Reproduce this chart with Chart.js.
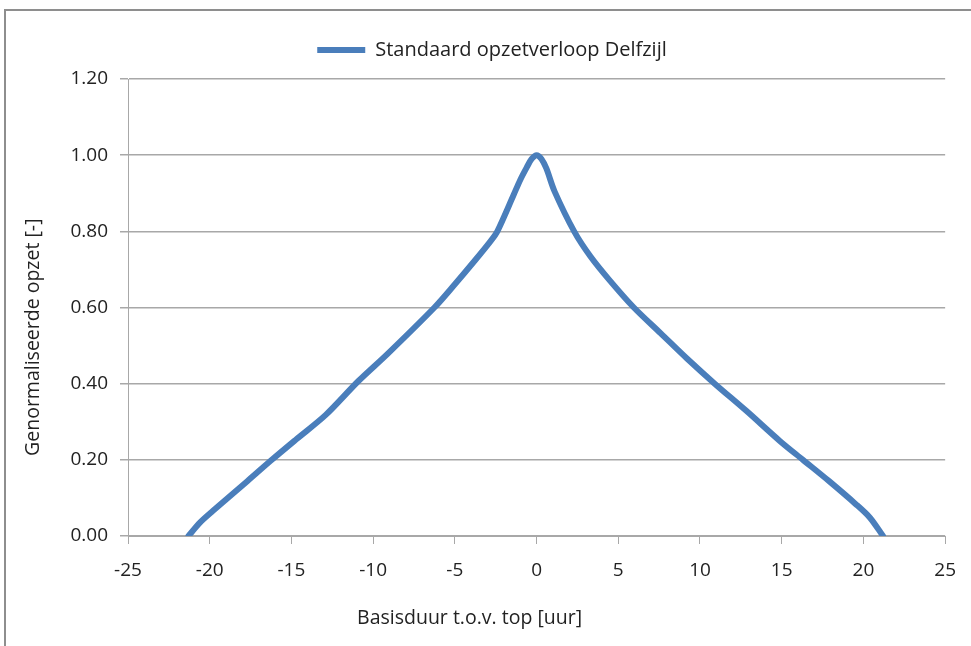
<!DOCTYPE html>
<html>
<head>
<meta charset="utf-8">
<title>Standaard opzetverloop Delfzijl</title>
<script src="https://cdn.jsdelivr.net/npm/chart.js@4.4.0/dist/chart.umd.min.js"></script>
<style>
    body { margin: 0; background: #fff; overflow: hidden; }
    #frame {
        position: absolute; left: 4px; top: 9px; width: 1000px; height: 700px;
        border-left: 2px solid #8e8e8e; border-top: 2px solid #8e8e8e;
    }
    #wrap { position: absolute; left: 0; top: 0; width: 971px; height: 646px; }
</style>
</head>
<body>
<div id="frame"></div>
<div id="wrap"><canvas id="chart" width="971" height="646"></canvas></div>
<script>
// <!-- DATA -->
const seriesName = 'Standaard opzetverloop Delfzijl';
const xTitle = 'Basisduur t.o.v. top [uur]';
const yTitle = 'Genormaliseerde opzet [-]';

// hours relative to the peak
const hours = [-21.3, -20.6, -19.8, -17.7, -16.2, -14.7, -12.9, -10.9, -9.1, -6.25, -5.0, -3.8, -2.8, -2.4, -1.4, -1.0, -0.6, -0.3, 0,
               0.3, 0.6, 1.1, 2.3, 3.3, 4.5, 5.95, 7.6, 9.2, 10.9, 12.85, 14.9, 16.3, 17.9, 19.55, 20.4, 21.2];
// normalised surge
const surge = [0, 0.035, 0.066, 0.144, 0.20, 0.254, 0.318, 0.407, 0.479, 0.60, 0.661, 0.722, 0.775, 0.80, 0.896, 0.935, 0.968, 0.99, 1.0,
               0.99, 0.965, 0.905, 0.80, 0.734, 0.67, 0.60, 0.532, 0.466, 0.40, 0.328, 0.249, 0.20, 0.144, 0.083, 0.048, 0];

const xMin = -25, xMax = 25, xStep = 5;
const yMin = 0, yMax = 1.2, yStep = 0.2;

const lineColor = '#4a7ebb';
const gridColor = '#a8a8a8';
const textColor = '#222';
const fontFamily = '"Open Sans", sans-serif';

// axis titles are drawn by hand, the original has them off-centre
const axisTitles = {
    id: 'axisTitles',
    afterDraw(chart) {
        const ctx = chart.ctx;
        const a = chart.chartArea;
        ctx.save();
        ctx.fillStyle = textColor;
        ctx.font = '19.5px ' + fontFamily;
        ctx.textAlign = 'center';
        ctx.textBaseline = 'middle';
        ctx.fillText(xTitle, a.left + (a.right - a.left) * 0.418, chart.height - 28);
        ctx.translate(33, a.top + (a.bottom - a.top) * 0.565);
        ctx.rotate(-Math.PI / 2);
        ctx.fillText(yTitle, 0, 0);
        ctx.restore();
    }
};

const points = hours.map((h, i) => ({ x: h, y: surge[i] }));

new Chart(document.getElementById('chart').getContext('2d'), {
    type: 'scatter',
    data: {
        datasets: [{
            label: seriesName,
            data: points,
            showLine: true,
            borderColor: lineColor,
            backgroundColor: lineColor,
            borderWidth: 6,
            borderJoinStyle: 'round',
            borderCapStyle: 'round',
            pointRadius: 0,
            tension: 0.3
        }]
    },
    options: {
        responsive: false,
        animation: false,
        layout: { padding: { top: 23, right: 25, left: 38, bottom: 0 } },
        plugins: {
            legend: {
                position: 'top',
                labels: {
                    boxWidth: 48,
                    boxHeight: 6,
                    color: textColor,
                    padding: 17,
                    font: { family: fontFamily, size: 20 },
                    generateLabels(chart) {
                        const items = Chart.defaults.plugins.legend.labels.generateLabels(chart);
                        items.forEach(it => { it.fillStyle = lineColor; it.strokeStyle = lineColor; it.lineWidth = 0; });
                        return items;
                    }
                }
            },
            // empty title used as a spacer between the legend and the plot
            title: {
                display: true,
                text: '',
                weight: 500,
                font: { size: 1, lineHeight: 1 },
                padding: { top: 8, bottom: 0 }
            },
            tooltip: { enabled: false }
        },
        scales: {
            x: {
                type: 'linear',
                min: xMin,
                max: xMax,
                afterFit(scale) { scale.height = 110; },
                ticks: { stepSize: xStep, color: textColor, padding: 15, font: { family: fontFamily, size: 19 } },
                grid: { drawOnChartArea: false, drawTicks: true, tickLength: 8, color: gridColor },
                border: { color: gridColor, width: 1 }
            },
            y: {
                min: yMin,
                max: yMax,
                afterFit(scale) { scale.width = 90; },
                ticks: {
                    stepSize: yStep,
                    color: textColor,
                    padding: 12,
                    font: { family: fontFamily, size: 19 },
                    callback: v => v.toFixed(2)
                },
                grid: { color: gridColor, tickLength: 8, lineWidth: 1.5 },
                border: { color: gridColor, width: 1 }
            }
        }
    },
    plugins: [axisTitles]
});
</script>
</body>
</html>
